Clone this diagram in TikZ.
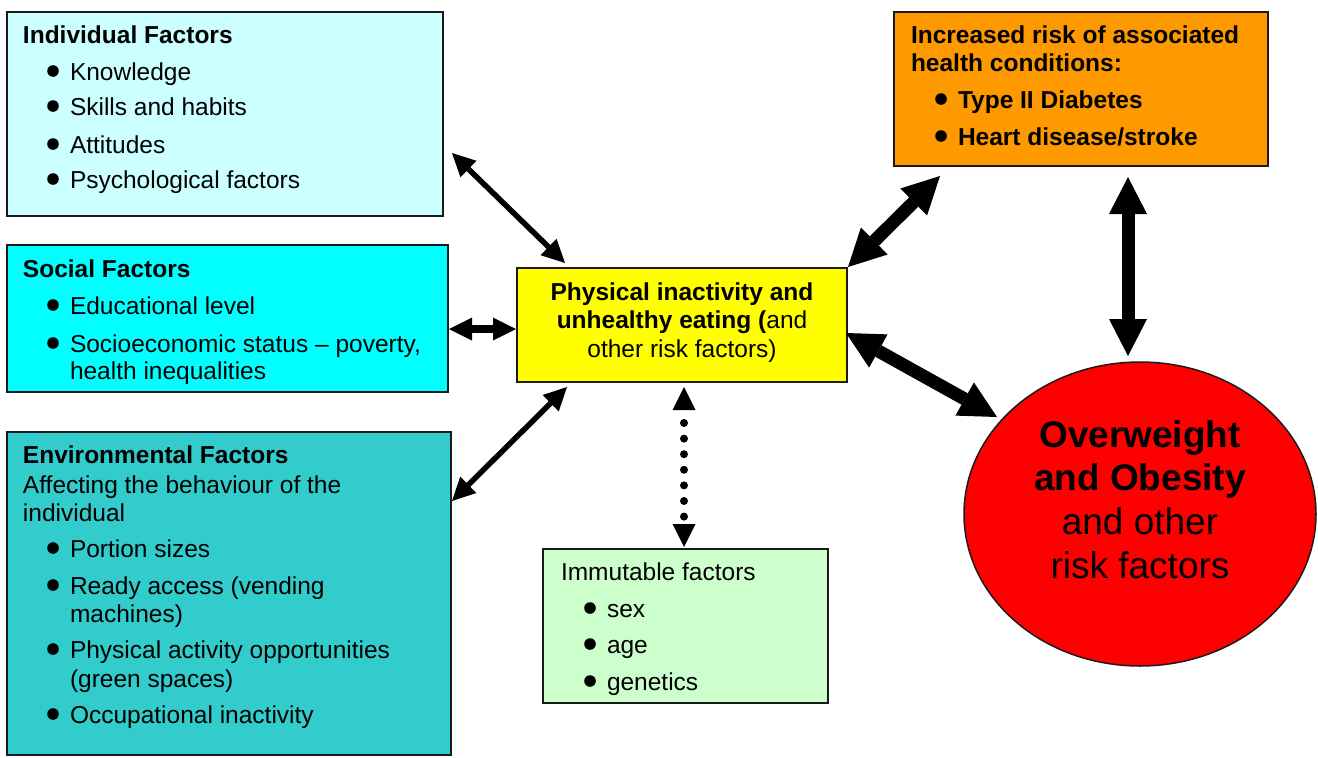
\documentclass[tikz,border=0pt]{standalone}
\usepackage{fontspec}
\setmainfont{Liberation Sans}
\usetikzlibrary{arrows.meta,shapes.geometric,calc}
\definecolor{indivc}{HTML}{CCFFFF}
\definecolor{socialc}{HTML}{00FFFF}
\definecolor{envc}{HTML}{33CCCC}
\definecolor{yellowc}{HTML}{FFFF00}
\definecolor{immutc}{HTML}{CCFFCC}
\definecolor{orangec}{HTML}{FF9900}
\definecolor{redc}{HTML}{FF0000}
\definecolor{edgec}{HTML}{1A1A1A}
\newcommand\mybullet[2]{\fill (#1,#2-9) circle (5.8);}
\tikzset{
  box/.style={draw=edgec, line width=1.5pt, anchor=north west, inner sep=0pt, outer sep=0pt},
  txt/.style={anchor=base west, inner sep=0pt, outer sep=0pt, font=\fontsize{24.5}{28}\selectfont},
  btxt/.style={txt, font=\fontsize{24.5}{28}\selectfont\bfseries},
  ctxt/.style={anchor=base, inner sep=0pt, outer sep=0pt, font=\fontsize{24.5}{28}\selectfont},
  etxt/.style={anchor=base, inner sep=0pt, outer sep=0pt, font=\fontsize{37}{44}\selectfont},
  betxt/.style={etxt, font=\fontsize{37}{44}\selectfont\bfseries},
  smalltip/.tip={Triangle[length=23pt,width=23pt,line width=0pt]},
  bigtip/.tip={Triangle[length=37pt,width=38pt,line width=0pt]},
  thinarrow/.style={line width=5.5pt, smalltip-smalltip},
  medarrow/.style={line width=8pt, smalltip-smalltip},
  thickarrow/.style={line width=13pt, bigtip-bigtip},
  dotarrow/.style={line width=8pt, line cap=round, dash pattern=on 0pt off 15.6pt, dash phase=2.6pt, smalltip-smalltip}
}
\begin{document}
\begin{tikzpicture}[x=1pt,y=-1pt]
\useasboundingbox (0,0) rectangle (1318,758);
% boxes
\node[box, fill=indivc, minimum width=436pt, minimum height=204pt] (indiv) at (7,12) {};
\node[box, fill=socialc, minimum width=441pt, minimum height=147pt] (social) at (7,245) {};
\node[box, fill=envc, minimum width=444pt, minimum height=323pt] (env) at (7,432) {};
\node[box, fill=yellowc, minimum width=330pt, minimum height=114pt] (phys) at (517,268) {};
\node[box, fill=immutc, minimum width=285pt, minimum height=154pt] (immut) at (543,549) {};
\node[box, fill=orangec, minimum width=374pt, minimum height=154pt] (risk) at (894,12) {};
\node[draw=edgec, line width=1.5pt, fill=redc, ellipse, inner sep=0pt, outer sep=0pt, minimum width=352pt, minimum height=304pt] (obese) at (1140,514) {};

% Individual factors
\node[btxt] (t1) at (23,43) {Individual Factors};
\mybullet{53}{80}\node[txt] (t1a) at (70,80) {Knowledge};
\mybullet{53}{115}\node[txt] (t1b) at (70,115) {Skills and habits};
\mybullet{53}{153}\node[txt] (t1c) at (70,153) {Attitudes};
\mybullet{53}{188}\node[txt] (t1d) at (70,188) {Psychological factors};

% Social factors
\node[btxt] (t2) at (23,277) {Social Factors};
\mybullet{53}{314}\node[txt] (t2a) at (70,314) {Educational level};
\mybullet{53}{352}\node[txt] (t2b) at (70,352) {Socioeconomic status – poverty,};
\node[txt] (t2c) at (70,379) {health inequalities};

% Environmental factors
\node[btxt] (t3) at (23,463) {Environmental Factors};
\node[txt] (t3x) at (23,493) {Affecting the behaviour of the};
\node[txt] (t3y) at (23,521) {individual};
\mybullet{53}{557}\node[txt] (t3a) at (70,557) {Portion sizes};
\mybullet{53}{594}\node[txt] (t3b) at (70,594) {Ready access (vending};
\node[txt] (t3c) at (70,622) {machines)};
\mybullet{53}{658}\node[txt] (t3d) at (70,658) {Physical activity opportunities};
\node[txt] (t3e) at (70,687) {(green spaces)};
\mybullet{53}{723}\node[txt] (t3f) at (70,723) {Occupational inactivity};

% Physical inactivity
\node[ctxt] (t4a) at (682,300) {\bfseries Physical inactivity and};
\node[ctxt] (t4b) at (682,328) {\bfseries unhealthy eating (\mdseries and};
\node[ctxt] (t4c) at (682,357) {other risk factors)};

% Immutable
\node[txt] (t5) at (561,580) {Immutable factors};
\mybullet{590}{617}\node[txt] (t5a) at (607,617) {sex};
\mybullet{590}{653}\node[txt] (t5b) at (607,653) {age};
\mybullet{590}{690}\node[txt] (t5c) at (607,690) {genetics};

% Increased risk
\node[btxt] (t6) at (911,43) {Increased risk of associated};
\node[btxt] (t6x) at (911,71) {health conditions:};
\mybullet{941}{108}\node[btxt] (t6a) at (958,108) {Type II Diabetes};
\mybullet{941}{145}\node[btxt] (t6b) at (958,145) {Heart disease/stroke};

% Overweight
\node[betxt] (t7a) at (1140,447) {Overweight};
\node[betxt] (t7b) at (1140,490) {and Obesity};
\node[etxt] (t7c) at (1140,534) {and other};
\node[etxt] (t7d) at (1140,578) {risk factors};

% connectors
\draw[thinarrow] ($(indiv.north east)+(9,141)$) -- ($(phys.north west)+(48,-5)$);
\draw[medarrow] ($(social.north east)+(1,84)$) -- ($(phys.west)+(-1,4)$);
\draw[thinarrow] ($(env.north east)+(1,69)$) -- ($(phys.south west)+(50,5)$);
\draw[dotarrow] ($(phys.south)+(2,5)$) -- ($(immut.north)+(-1.5,-2)$);
\draw[thickarrow] ($(phys.north east)+(1,-1)$) -- ($(risk.south west)+(46,10)$);
\draw[thickarrow] ($(phys.east)+(-1,8)$) -- ($(obese.center)+(-143,-97)$);
\draw[thickarrow] ($(risk.south)+(47,11)$) -- ($(obese.north)+(-12,-6)$);
\end{tikzpicture}
\end{document}
